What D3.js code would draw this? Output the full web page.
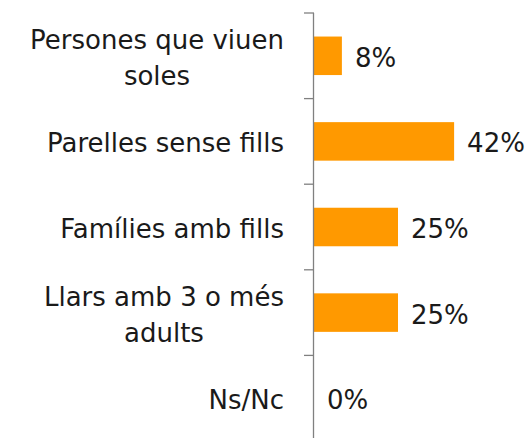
<!DOCTYPE html>
<html>
<head>
<meta charset="utf-8">
<script src="https://cdn.jsdelivr.net/npm/d3@7"></script>
<style>
  body { margin: 0; background: #fff; }
  text { font-family: "DejaVu Sans", sans-serif; fill: #1a1a1a; }
</style>
</head>
<body>
<div class="container"></div>
<script>
var width = 526;
var height = 438;
var margin = {top: 13, right: 20, bottom: -3, left: 314};
var fontSize = 26;
var lineGap = 36;
var label_right = 284;
var bar_color = "#ff9900";

// data
var categories = ["Persones que viuen soles", "Parelles sense fills", "Famílies amb fills", "Llars amb 3 o més adults", "Ns/Nc"];
var label_lines = [["Persones que viuen", "soles"], ["Parelles sense fills"], ["Famílies amb fills"], ["Llars amb 3 o més", "adults"], ["Ns/Nc"]];
var values = [8.3, 41.7, 25, 25, 0];

var yScale = d3.scaleBand().domain(categories)
  .range([margin.top, height - margin.bottom]).paddingInner(0.55).paddingOuter(0.275);
var xScale = d3.scaleLinear().domain([0, 100]).range([margin.left, margin.left + 336]);

var svg = d3.select(".container")
  .append("svg").attr("width", width).attr("height", height);

// bars
svg.selectAll(".bar")
  .data(values)
  .enter()
  .append("rect")
  .attr("class", "bar")
  .attr("x", xScale(0))
  .attr("y", (d, i) => yScale(categories[i]))
  .attr("width", (d) => xScale(d) - xScale(0))
  .attr("height", yScale.bandwidth())
  .attr("fill", bar_color);

// axis line with ticks on band edges
var step = yScale.step();
var edges = d3.range(categories.length + 1).map((i) => margin.top + i * step);
var axis = svg.append("g").attr("id", "y-axis");
axis.append("line")
  .attr("x1", xScale(0) - 0.5).attr("x2", xScale(0) - 0.5)
  .attr("y1", margin.top).attr("y2", height - margin.bottom)
  .attr("stroke", "#808080").attr("stroke-width", 1.3);
axis.selectAll(".tick")
  .data(edges)
  .enter()
  .append("line")
  .attr("class", "tick")
  .attr("x1", xScale(0) - 10).attr("x2", xScale(0))
  .attr("y1", (d) => d).attr("y2", (d) => d)
  .attr("stroke", "#808080").attr("stroke-width", 1.3);

// category labels: block sits right-aligned, lines centred inside the block
var labels = svg.selectAll(".cat")
  .data(label_lines)
  .enter()
  .append("text")
  .attr("class", "cat")
  .attr("text-anchor", "middle")
  .style("font-size", fontSize + "px")
  .attr("transform", (d, i) => "translate(0," + (yScale(categories[i]) + yScale.bandwidth() / 2) + ")");
labels.selectAll("tspan")
  .data((d) => d.map((t, j) => ({t: t, j: j, n: d.length})))
  .enter()
  .append("tspan")
  .attr("y", (d) => (d.j - (d.n - 1) / 2) * lineGap + fontSize * 0.42)
  .text((d) => d.t);
labels.each(function() {
  var spans = d3.select(this).selectAll("tspan");
  var maxW = d3.max(spans.nodes(), (n) => n.getComputedTextLength());
  spans.attr("x", label_right - maxW / 2);
});

// value labels
svg.selectAll(".val")
  .data(values)
  .enter()
  .append("text")
  .attr("class", "val")
  .style("font-size", fontSize + "px")
  .attr("x", (d) => xScale(d) + 13)
  .attr("y", (d, i) => yScale(categories[i]) + yScale.bandwidth() / 2 + fontSize * 0.42)
  .text((d) => d3.format(".0f")(d) + "%");
</script>
</body>
</html>
